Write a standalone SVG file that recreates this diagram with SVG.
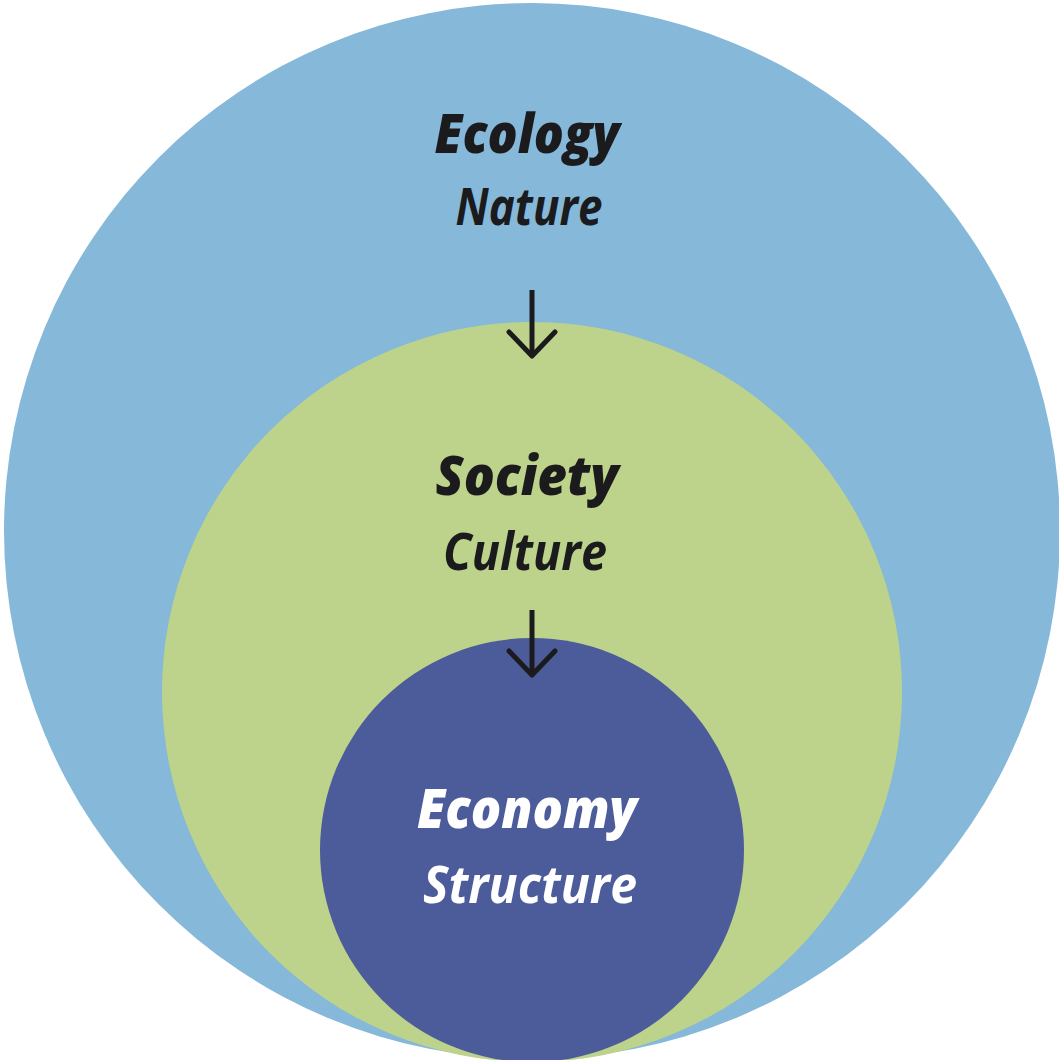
<svg xmlns="http://www.w3.org/2000/svg" width="1059" height="1060" viewBox="0 0 1059 1060">
  <defs>
    <style>
      .title { font-family: "Open Sans", "Liberation Sans", sans-serif; font-weight: 800; font-style: italic; font-size: 54px; text-anchor: middle; }
      .sub { font-family: "Open Sans", "Liberation Sans", sans-serif; font-weight: 700; font-style: italic; font-size: 52px; text-anchor: middle; }
      .dark { fill: #1b1b1d; }
      .light { fill: #ffffff; }
      .conn { stroke: #1b1b1d; stroke-width: 5; fill: none; }
    </style>
    <marker id="vhead" markerUnits="userSpaceOnUse" orient="auto" refX="0" refY="0" markerWidth="60" markerHeight="60" overflow="visible">
      <path d="M -24,-23 L 0,0 L -24,23" fill="none" stroke="#1b1b1d" stroke-width="5" stroke-linejoin="round" stroke-linecap="round"/>
    </marker>
  </defs>
  <rect width="1059" height="1060" fill="#ffffff"/>
  <g id="ecology">
    <circle cx="532" cy="531" r="528" fill="#85B8D9"/>
    <text class="title dark" x="527" y="153" textLength="185" lengthAdjust="spacingAndGlyphs">Ecology</text>
    <text class="sub dark" x="529" y="225" textLength="147" lengthAdjust="spacingAndGlyphs">Nature</text>
  </g>
  <g id="society">
    <circle cx="532" cy="692" r="370" fill="#BDD38B"/>
    <text class="title dark" x="527" y="495" textLength="183" lengthAdjust="spacingAndGlyphs">Society</text>
    <text class="sub dark" x="525" y="570" textLength="164" lengthAdjust="spacingAndGlyphs">Culture</text>
  </g>
  <g id="economy">
    <circle cx="532" cy="850" r="212" fill="#4C5B9A"/>
    <text class="title light" x="527" y="828" textLength="220" lengthAdjust="spacingAndGlyphs">Economy</text>
    <text class="sub light" x="530" y="903" textLength="214" lengthAdjust="spacingAndGlyphs">Structure</text>
  </g>
  <g id="connectors">
    <line class="conn" x1="532" y1="290" x2="532" y2="356" marker-end="url(#vhead)"/>
    <line class="conn" x1="532" y1="610" x2="532" y2="675" marker-end="url(#vhead)"/>
  </g>
</svg>
